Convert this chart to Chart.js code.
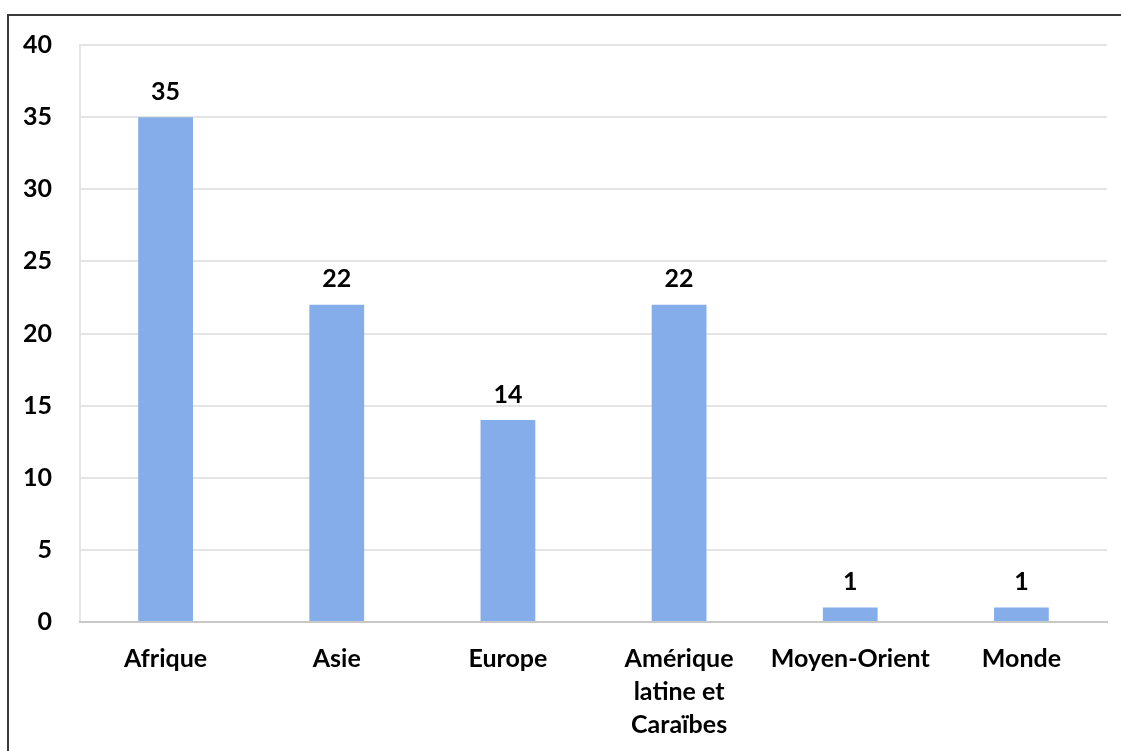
<!DOCTYPE html>
<html>
<head>
<meta charset="utf-8">
<script src="https://cdn.jsdelivr.net/npm/chart.js@4"></script>
<style>
  html, body { margin: 0; padding: 0; background: #fff; overflow: hidden; }
  #cadre {
    position: absolute; left: 7px; top: 14px; width: 1300px; height: 900px;
    border: 2px solid #3a3a3a; box-sizing: border-box;
  }
  #zone { position: absolute; left: 0; top: 0; width: 1121px; height: 751px; }
</style>
</head>
<body>
<div id="cadre"></div>
<div id="zone"><canvas id="grafica" width="1121" height="751"></canvas></div>
<script>
const regions = ['Afrique', 'Asie', 'Europe', ['Amérique', 'latine et', 'Caraïbes'], 'Moyen-Orient', 'Monde'];
const nombres = [35, 22, 14, 22, 1, 1];
const yTicks = [0, 5, 10, 15, 20, 25, 30, 35, 40];

const police = { family: 'Lato, "Noto Sans", sans-serif', size: 25, weight: 'bold' };

// valeurs au-dessus des barres
const etiquettes = {
  id: 'etiquettes',
  afterDatasetsDraw(chart) {
    const ctx = chart.ctx;
    const meta = chart.getDatasetMeta(0);
    ctx.save();
    ctx.font = `bold ${police.size}px ${police.family}`;
    ctx.fillStyle = '#000';
    ctx.textAlign = 'center';
    ctx.textBaseline = 'bottom';
    meta.data.forEach((bar, i) => {
      ctx.fillText(String(nombres[i]), bar.x, bar.y - 13);
    });
    ctx.restore();
  }
};

const ctx = document.getElementById('grafica').getContext('2d');
const chart = new Chart(ctx, {
  type: 'bar',
  data: {
    labels: regions,
    datasets: [{
      data: nombres,
      backgroundColor: '#84adea',
      barPercentage: 0.64,
      categoryPercentage: 0.5
    }]
  },
  options: {
    responsive: false,
    animation: false,
    layout: { padding: { left: 0, right: 14, top: 45, bottom: 0 } },
    plugins: { legend: { display: false }, tooltip: { enabled: false } },
    scales: {
      y: {
        min: 0,
        max: 40,
        afterBuildTicks: (s) => { s.ticks = yTicks.map(v => ({ value: v })); },
        afterFit: (s) => { s.width = 80; },
        grid: { color: '#e4e4e4', lineWidth: 2, drawTicks: false },
        border: { display: true, color: '#e4e4e4', width: 2 },
        ticks: { color: '#000', font: police, padding: 28 }
      },
      x: {
        afterFit: (s) => { s.height = 129; },
        grid: {
          drawTicks: false,
          lineWidth: 2,
          color: (c) => c.index === regions.length ? '#e4e4e4' : 'rgba(0,0,0,0)'
        },
        border: { display: true, color: '#c8c8c8', width: 2 },
        ticks: { color: '#000', font: { ...police, lineHeight: 1.32 }, padding: 20, maxRotation: 0, autoSkip: false }
      }
    }
  },
  plugins: [etiquettes]
});
</script>
</body>
</html>
